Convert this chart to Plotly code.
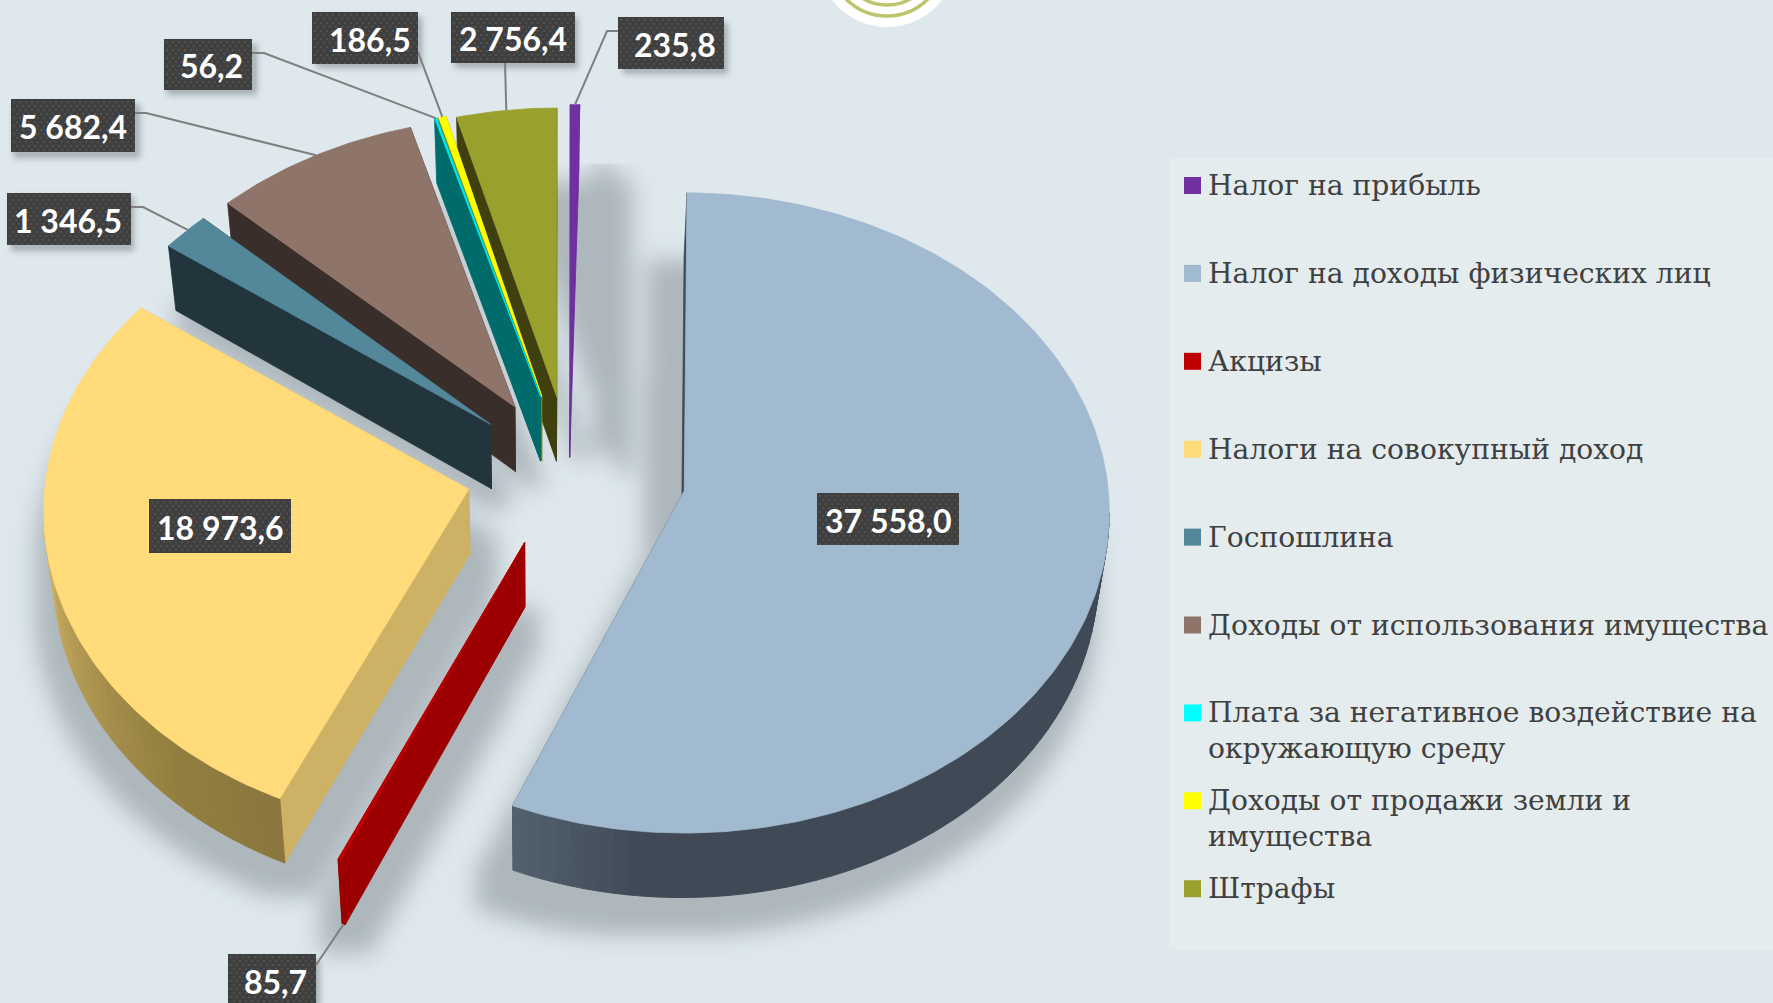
import numpy as np
import plotly.graph_objects as go

# ---------- data ----------
categories = ["Налог на прибыль", "Налог на доходы физических лиц", "Акцизы",
              "Налоги на совокупный доход", "Госпошлина",
              "Доходы от использования имущества",
              "Плата за негативное воздействие на\nокружающую среду",
              "Доходы от продажи земли и\nимущества", "Штрафы"]
values = [235.8, 37558.0, 85.7, 18973.6, 1346.5, 5682.4, 56.2, 186.5, 2756.4]

# ---------- styles ----------
top_colors = ["#7030A0", "#A1BACF", "#C00000", "#FFDB7A", "#53879A", "#8F746A", "#00E8E8", "#FFFF00", "#99A12C"]
key_colors = ["#7030A0", "#A1BACF", "#C00000", "#FFDB7A", "#53879A", "#8F746A", "#00FFFF", "#FFFF00", "#99A12C"]
cut_colors = ["#6A2C98", "#3F4A56", "#9C0000", "#CDB164", "#22353D", "#3A2E2A", "#006B6B", "#8C7F00", "#3F3F0F"]
pull = [118, 118, 105, 103, 106, 111, 116, 116, 113]
tilt_mid = [0, 0, 1.3, 2.0, 2.6, 2.3, 1.8, 1.8, 1.2]
tilt_start = [0, -0.9, 1.6, 2.5, 4.7, 4.2, 1.7, 1.8, 1.2]
tilt_end = [0, 0.4, 1.6, 3.5, 4.2, 1.9, 1.7, 1.8, 0]
reach = [1, 1, 1.02, 1, 1, 1, 1, 1, 1]
shadow_dx = [30, -20, 0, 5, 10, 20, 40, 40, 70]
shadow_dy = [0, 20, 5, 8, 10, 10, 0, 0, 12]
shadow_pad = [6, 20, 24, 25, 12, 6, 6, 6, 6]
draw_order = [8, 7, 6, 5, 4, 0, 2, 3, 1]
CX, CY, RX, DEPTH = 569, 472, 425, 64.5
BG, PANEL = "#DEE8ED", "#E4ECEE"

# value label boxes (x0, x1, y0, y1), text nudges, leader elbow points
boxes = [(618, 724, 17, 69), (817, 959, 493, 545), (228, 316, 954, 1006), (149, 291, 499, 553),
         (7, 131, 193, 245), (11, 135, 99, 152), (164, 252, 39, 90), (312, 418, 12, 64), (451, 575, 12, 63)]
text_dx = [4, 0, 3, 0, -1, 0, 3, 4.5, 0]
elbows = [[(618, 31), (607, 31)], None, [(316, 965)], None, [(131, 207), (143, 207)],
          [(135, 113), (146, 113)], [(252, 53), (264, 53)], [(418, 52)], [(505, 63)]]

share = np.array(values) / sum(values) * 360
ends = np.cumsum(share)
starts = ends - share


def bottom(x, y):
    x, y = np.asarray(x, float), np.asarray(y, float)
    return x + .02 * (540 - x), y + DEPTH


slices = []
for i in range(len(values)):
    a0, a1 = starts[i] + tilt_start[i], ends[i] + tilt_end[i]
    mid = np.radians((starts[i] + ends[i]) / 2 + tilt_mid[i])
    ax = CX + pull[i] * np.sin(mid)
    c = np.cos(mid)
    ay = CY - pull[i] * c * (.67 if c > 0 else .74)
    near = min(ay, 492) - 400
    off = 38 - near * 16 / 92
    ry = 327 - near * 7 / 92


    def rim(t, ax=ax, ay=ay, off=off, ry=ry, r=reach[i]):
        t = np.radians(np.asarray(t, float))
        return ax + RX * r * np.sin(t), ay + off - ry * r * np.cos(t)


    deg = np.linspace(a0, a1, max(3, int(a1 - a0) + 2))
    x, y = rim(deg)
    slices.append(dict(ax=ax, ay=ay, x=x, y=y, deg=deg, rim=rim))

# ---------- soft shadows, computed from the slice outlines ----------
STEP = 3
gx = np.arange(0, 1773 + STEP, STEP)
gy = np.arange(0, 1003 + STEP, STEP)
GX, GY = np.meshgrid(gx, gy)


def inside(px, py):
    m = np.zeros(GX.shape, bool)
    n = len(px)
    for k in range(n):
        x1, y1, x2, y2 = px[k], py[k], px[(k + 1) % n], py[(k + 1) % n]
        if y1 == y2:
            continue
        cond = (y1 > GY) != (y2 > GY)
        m ^= cond & (GX < (x2 - x1) * (GY - y1) / (y2 - y1) + x1)
    return m


def dilate(m, pad):
    r = max(1, int(pad / STEP))
    k = np.ones(2 * r + 1)
    d = np.apply_along_axis(lambda v: np.convolve(v, k, "same"), 0, m.astype(float)) > .5
    d = np.apply_along_axis(lambda v: np.convolve(v, k, "same"), 1, d.astype(float)) > .5
    return d


def blur(f, sigma):
    s = sigma / STEP
    t = np.arange(-int(3 * s) - 1, int(3 * s) + 2)
    k = np.exp(-t ** 2 / (2 * s * s))
    k /= k.sum()
    f = np.apply_along_axis(lambda v: np.convolve(v, k, "same"), 0, f)
    return np.apply_along_axis(lambda v: np.convolve(v, k, "same"), 1, f)


mask = np.zeros(GX.shape, bool)
for i, s in enumerate(slices):
    px = np.r_[s["ax"], s["x"]]
    py = np.r_[s["ay"], s["y"]]
    bx, by = bottom(px, py)
    mask |= dilate(inside(bx + shadow_dx[i], by + shadow_dy[i]), shadow_pad[i])
field = blur(mask.astype(float), 11)
field[GY < 165] = 0
bmask = np.zeros(GX.shape, bool)
for x0, x1, y0, y1 in boxes:
    bmask |= inside([x0 + 4, x1 + 4, x1 + 4, x0 + 4], [y0 + 5, y0 + 5, y1 + 5, y1 + 5])
field = np.maximum(field, blur(bmask.astype(float), 3) * 1.2)

fig = go.Figure()
fig.add_trace(go.Heatmap(x=gx, y=gy, z=field, zmin=0, zmax=1, zsmooth="best", showscale=False, hoverinfo="skip",
                         colorscale=[[0, "rgba(90,100,105,0)"], [1, "rgba(90,100,105,0.37)"]]))


def poly(x, y, color, name=None, width=.8):
    x, y = [float(v) for v in x], [float(v) for v in y]
    fig.add_trace(go.Scatter(x=x + [x[0]], y=y + [y[0]], mode="lines", fill="toself", fillcolor=color,
                             line=dict(color=color, width=width), showlegend=False,
                             name=name or "", hoverinfo="name" if name else "skip"))


def lerp(stops, t):
    ts = [p[0] for p in stops]
    rgb = [np.interp(t, ts, [int(p[1][1 + 2 * j:3 + 2 * j], 16) for p in stops]) for j in range(3)]
    return "#%02X%02X%02X" % tuple(int(v) for v in rgb)


arc_ramps = {1: [(90, "#3F4A56"), (185, "#3F4A56"), (204, "#54626F")],
             3: [(204, "#8A7540"), (225, "#93803F"), (245, "#AE9550"), (270, "#D0B566")]}

for i in draw_order:
    s = slices[i]
    ax, ay, x, y, deg = s["ax"], s["ay"], s["x"], s["y"], s["deg"]
    bxa, bya = bottom(ax, ay)
    # end cut first, start cut over it
    for k in (-1, 0):
        bxo, byo = bottom(x[k], y[k])
        poly([ax, x[k], bxo, bxa], [ay, y[k], byo, bya], cut_colors[i])
    # front-facing part of the rim, as narrow bands
    lo, hi = max(deg[0], 90), min(deg[-1], 270)
    if hi > lo:
        edges = np.linspace(lo, hi, max(2, int((hi - lo) / 2) + 1))
        for d0, d1 in zip(edges[:-1], edges[1:]):
            rx_, ry_ = s["rim"]([d0, d1])
            bx, by = bottom(rx_, ry_)
            col = lerp(arc_ramps[i], (d0 + d1) / 2) if i in arc_ramps else cut_colors[i]
            poly([rx_[0], rx_[1], bx[1], bx[0]], [ry_[0], ry_[1], by[1], by[0]], col, width=1)
    poly(np.r_[ax, x], np.r_[ay, y], top_colors[i], name=categories[i].replace("\n", " "))

# ---------- leader lines and value boxes ----------
for i, e in enumerate(elbows):
    if not e:
        continue
    s = slices[i]
    m = len(s["x"]) // 2
    ex, ey = float(s["x"][m]), float(s["y"][m])
    if i == 2:
        bx, by = bottom(ex, ey)
        ex, ey = float(bx), float(by)
    fig.add_trace(go.Scatter(x=[p[0] for p in e] + [ex], y=[p[1] for p in e] + [ey], mode="lines",
                             line=dict(color="#7F7F7F", width=2), hoverinfo="skip", showlegend=False))

dot_x, dot_y = [], []
for x0, x1, y0, y1 in boxes:
    poly([x0, x1, x1, x0], [y0, y0, y1, y1], "#3F3F3F", width=0)
    for r, yy in enumerate(np.arange(y0 + 3, y1, 4)):
        for xx in np.arange(x0 + 3 + 3 * (r % 2), x1, 6):
            dot_x.append(float(xx))
            dot_y.append(float(yy))
fig.add_trace(go.Scatter(x=dot_x, y=dot_y, mode="markers", hoverinfo="skip", showlegend=False,
                         marker=dict(size=2, color="#575757", line=dict(width=0))))

annotations = []
for v, (x0, x1, y0, y1), tdx in zip(values, boxes, text_dx):
    label = f"{v:,.1f}".replace(",", " ").replace(".", ",")
    annotations.append(dict(x=(x0 + x1) / 2 + tdx, y=(y0 + y1) / 2 + 1, text=f"<b>{label}</b>", showarrow=False, xref="x", yref="y",
                            font=dict(family="Lato", size=32, color="white"), xanchor="center", yanchor="middle"))

# ---------- key panel ----------
KEY_X, KEY_Y0, KEY_DY, LINE = 1192.5, 185.5, 87.9, 36
key_y = [KEY_Y0 + KEY_DY * i for i in range(len(categories))]
fig.add_trace(go.Scatter(x=[KEY_X] * len(categories), y=key_y, mode="markers", hoverinfo="skip", showlegend=False,
                         marker=dict(symbol="square", size=17, color=key_colors, line=dict(width=0))))
for name, yy in zip(categories, key_y):
    for j, line in enumerate(name.split("\n")):
        annotations.append(dict(x=1205.5, y=yy + j * LINE, text=line, showarrow=False, xref="x", yref="y", xanchor="left",
                                yanchor="middle", font=dict(family="DejaVu Serif", size=28.2, color="#404040")))

shapes = [
    dict(type="rect", layer="below", xref="x", yref="y", x0=1169, x1=1773, y0=158, y1=950, fillcolor=PANEL, line_width=0),
]
# logo fragment at the top edge
shapes += [
    dict(type="circle", layer="above", xref="x", yref="y", x0=887 - 69.5, x1=887 + 69.5, y0=-112, y1=27, fillcolor="white", line_width=0),
    dict(type="circle", layer="above", xref="x", yref="y", x0=887 - 58, x1=887 + 58, y0=-100, y1=16, fillcolor="rgba(0,0,0,0)",
         line=dict(color="#BDC46C", width=3.5)),
    dict(type="circle", layer="above", xref="x", yref="y", x0=887 - 47, x1=887 + 47, y0=-89, y1=5, fillcolor="rgba(0,0,0,0)",
         line=dict(color="#BDC46C", width=3.5)),
]

fig.update_layout(
    width=1773, height=1003, margin=dict(l=0, r=0, t=0, b=0), paper_bgcolor=BG, plot_bgcolor=BG,
    xaxis=dict(range=[0, 1773], visible=False, fixedrange=True),
    yaxis=dict(range=[1003, 0], visible=False, fixedrange=True),
    showlegend=False, annotations=annotations, shapes=shapes,
)
fig.write_html("out.html", config=dict(displayModeBar=False),
               post_script="document.body.style.margin='0';document.body.style.background='#DEE8ED';")
